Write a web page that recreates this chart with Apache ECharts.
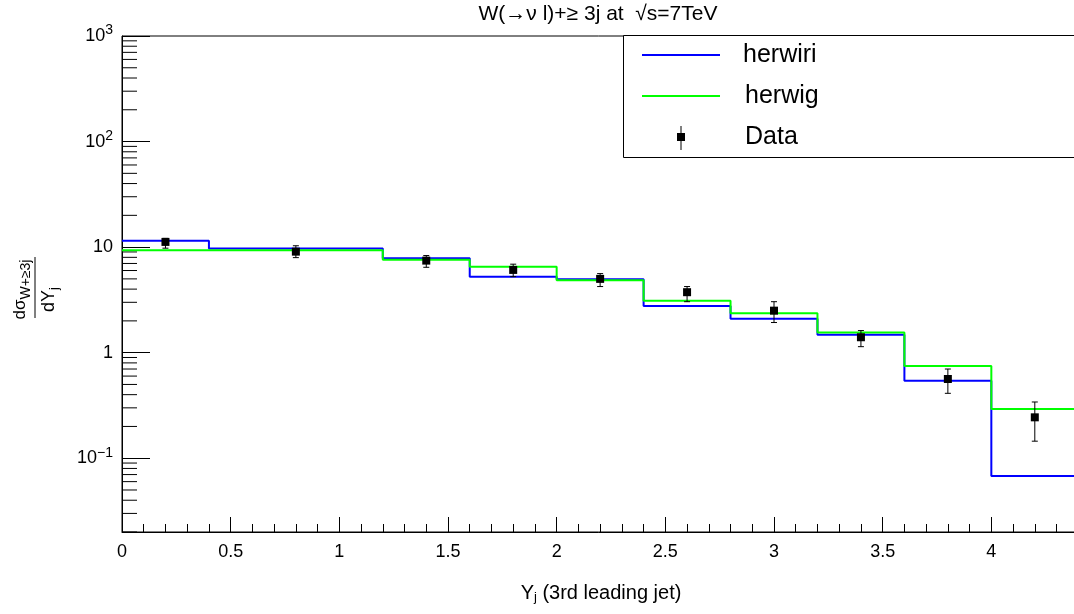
<!DOCTYPE html>
<html><head><meta charset="utf-8">
<script src="https://cdn.jsdelivr.net/npm/echarts@6/dist/echarts.min.js"></script>
<style>html,body{margin:0;padding:0;background:#fff}#c{width:1074px;height:614px}</style>
</head><body><div id="c"></div>
<script>
// ---- data ----
const binEdges = [0, 0.4, 1.2, 1.6, 2.0, 2.4, 2.8, 3.2, 3.6, 4.0, 4.4];
const herwiri  = [11.5, 9.68, 7.85, 5.25, 4.95, 2.77, 2.09, 1.48, 0.543, 0.0678];
const herwig   = [9.35, 9.35, 7.57, 6.53, 4.85, 3.11, 2.36, 1.55, 0.748, 0.292];
const dataX    = [0.2, 0.8, 1.4, 1.8, 2.2, 2.6, 3.0, 3.4, 3.8, 4.2];
const dataY    = [11.2, 9.06, 7.45, 6.08, 5.0, 3.74, 2.50, 1.40, 0.563, 0.244];
const dataHi   = [12.1, 10.3, 8.32, 6.89, 5.61, 4.23, 3.04, 1.62, 0.70, 0.341];
const dataLo   = [9.77, 7.95, 6.44, 5.25, 4.23, 3.04, 1.93, 1.14, 0.412, 0.145];
const xTickLabels = ['0', '0.5', '1', '1.5', '2', '2.5', '3', '3.5', '4'];
const yTickLabels = {'-1': '{b|10}{s|\u22121}', '0': '{b|1}', '1': '{b|10}', '2': '{b|10}{s|2}', '3': '{b|10}{s|3}'};
const yMinorTicks = [0.02,0.03,0.04,0.05,0.06,0.07,0.08,0.09,
  0.2,0.3,0.4,0.5,0.6,0.7,0.8,0.9, 2,3,4,5,6,7,8,9,
  20,30,40,50,60,70,80,90, 200,300,400,500,600,700,800,900];
const titleText = 'W(\u2192\u03bd l)+\u2265 3j at  \u221as=7TeV';
const legendNames = ['herwiri', 'herwig', 'Data'];

function steps(vals){ return binEdges.map((x,i)=>[x, vals[Math.min(i, vals.length-1)]]); }

const FONT = '"Liberation Sans", Arial, Helvetica, sans-serif';
const chart = echarts.init(document.getElementById('c'), null, {renderer:'canvas'});
const L = 122, T = 36, B = 532;

chart.setOption({
  animation: false,
  backgroundColor: '#fff',
  textStyle: {fontFamily: FONT},
  grid: {left: L, top: T, width: 978, height: B - T, outerBoundsMode: 'none', containLabel: false,
    show: true, borderColor: '#000', borderWidth: 1, backgroundColor: 'transparent'},
  xAxis: {
    type: 'value', min: 0, max: 4.5, interval: 0.5,
    axisLine: {show: true, onZero: false, lineStyle: {color: '#000', width: 1}},
    axisTick: {show: true, inside: true, length: 15, lineStyle: {color: '#000'}},
    minorTick: {show: true, splitNumber: 5, length: 8, lineStyle: {color: '#000'}},
    splitLine: {show: false},
    axisLabel: {fontSize: 18, color: '#000', fontFamily: FONT, margin: 11,
      formatter: v => { const i = Math.round(v / 0.5); return (Math.abs(v - i*0.5) < 1e-6 && i < xTickLabels.length) ? xTickLabels[i] : ''; }}
  },
  yAxis: {
    type: 'log', logBase: 10, min: 0.02, max: 1000,
    axisLine: {show: true, lineStyle: {color: '#000', width: 1}},
    axisTick: {show: true, inside: true, length: 28, lineStyle: {color: '#000'}},
    splitLine: {show: false},
    axisLabel: {color: '#000', margin: 9, fontFamily: FONT,
      formatter: v => { const e = Math.log10(v); const r = Math.round(e); return Math.abs(e - r) < 1e-6 && yTickLabels[String(r)] ? yTickLabels[String(r)] : ''; },
      rich: {b: {fontSize: 18, fontFamily: FONT, color: '#000'}, s: {fontSize: 14, fontFamily: FONT, color: '#000', verticalAlign: 'top', padding: [0,0,11,0]}}}
  },
  series: [
    {name: 'herwiri', type: 'line', step: 'end', data: steps(herwiri), symbol: 'none',
      lineStyle: {color: '#0000ff', width: 2}, itemStyle: {color: '#0000ff'}, z: 3},
    {name: 'herwig', type: 'line', step: 'end', data: steps(herwig), symbol: 'none',
      lineStyle: {color: '#00ff00', width: 2}, itemStyle: {color: '#00ff00'}, z: 4},
    {name: 'Data', type: 'custom', z: 10,
      data: dataX.map((x,i)=>[x, dataY[i], dataLo[i], dataHi[i]]),
      encode: {x: 0, y: 1},
      renderItem: (params, api) => {
        const x = api.value(0);
        const c = api.coord([x, api.value(1)]);
        const lo = api.coord([x, api.value(2)]);
        const hi = api.coord([x, api.value(3)]);
        const st = {stroke: '#000', lineWidth: 1};
        return {type: 'group', children: [
          {type: 'line', shape: {x1: c[0], y1: hi[1], x2: c[0], y2: lo[1]}, style: st},
          {type: 'line', shape: {x1: c[0]-3, y1: hi[1], x2: c[0]+3, y2: hi[1]}, style: st},
          {type: 'line', shape: {x1: c[0]-3, y1: lo[1], x2: c[0]+3, y2: lo[1]}, style: st},
          {type: 'rect', shape: {x: c[0]-4, y: c[1]-4, width: 8, height: 8}, style: {fill: '#000'}}
        ]};
      }},
    {name: 'yminor', type: 'custom', silent: true, z: 2,
      data: yMinorTicks.map(v => [0, v]), encode: {x: 0, y: 1},
      renderItem: (params, api) => {
        const p = api.coord([0, api.value(1)]);
        return {type: 'line', shape: {x1: p[0], y1: p[1], x2: p[0] + 15, y2: p[1]}, style: {stroke: '#000', lineWidth: 1}};
      }}
  ],
  graphic: [
    {type: 'text', x: 598, y: 14, style: {text: titleText, font: '21px ' + FONT, fill: '#000', align: 'center', verticalAlign: 'middle'}},
    // x axis title
    {type: 'text', x: 601, y: 593, style: {text: '{a|Y}{s|j}{a| (3rd leading jet)}', align: 'center', verticalAlign: 'middle',
      rich: {a: {fontSize: 20, fontFamily: FONT, fill: '#000'}, s: {fontSize: 13, fontFamily: FONT, fill: '#000', verticalAlign: 'bottom', padding: [9,0,0,0]}}}},
    // y axis title (rotated fraction)
    {type: 'group', x: 35, y: 287.5, rotation: Math.PI / 2, children: [
      {type: 'line', shape: {x1: -30.5, y1: 0, x2: 30.5, y2: 0}, style: {stroke: '#000', lineWidth: 1}},
      {type: 'text', x: -2, y: -2, style: {text: '{a|d\u03c3}{s|W+\u22653j}', align: 'center', verticalAlign: 'bottom',
        rich: {a: {fontSize: 17, fontFamily: FONT, fill: '#000'}, s: {fontSize: 14, fontFamily: FONT, fill: '#000', padding: [11,0,0,0]}}}},
      {type: 'text', x: -12, y: 3, style: {text: '{a|dY}{s|j}', align: 'center', verticalAlign: 'top',
        rich: {a: {fontSize: 18, fontFamily: FONT, fill: '#000'}, s: {fontSize: 13, fontFamily: FONT, fill: '#000', padding: [10,0,0,0]}}}}
    ]},
    // legend
    {type: 'rect', shape: {x: 623.5, y: 35.5, width: 470, height: 122}, style: {fill: '#fff', stroke: '#000', lineWidth: 1}, z: 50},
    {type: 'line', shape: {x1: 642, y1: 55, x2: 720, y2: 55}, style: {stroke: '#0000ff', lineWidth: 2}, z: 51},
    {type: 'text', x: 743, y: 55, style: {text: legendNames[0], font: '25px ' + FONT, fill: '#000', verticalAlign: 'middle'}, z: 51},
    {type: 'line', shape: {x1: 642, y1: 96, x2: 720, y2: 96}, style: {stroke: '#00ff00', lineWidth: 2}, z: 51},
    {type: 'text', x: 745, y: 96, style: {text: legendNames[1], font: '25px ' + FONT, fill: '#000', verticalAlign: 'middle'}, z: 51},
    {type: 'line', shape: {x1: 681, y1: 126, x2: 681, y2: 150}, style: {stroke: '#000', lineWidth: 1}, z: 51},
    {type: 'rect', shape: {x: 677, y: 133, width: 8, height: 8}, style: {fill: '#000'}, z: 52},
    {type: 'text', x: 745, y: 137, style: {text: legendNames[2], font: '25px ' + FONT, fill: '#000', verticalAlign: 'middle'}, z: 51}
  ]
});
</script></body></html>
